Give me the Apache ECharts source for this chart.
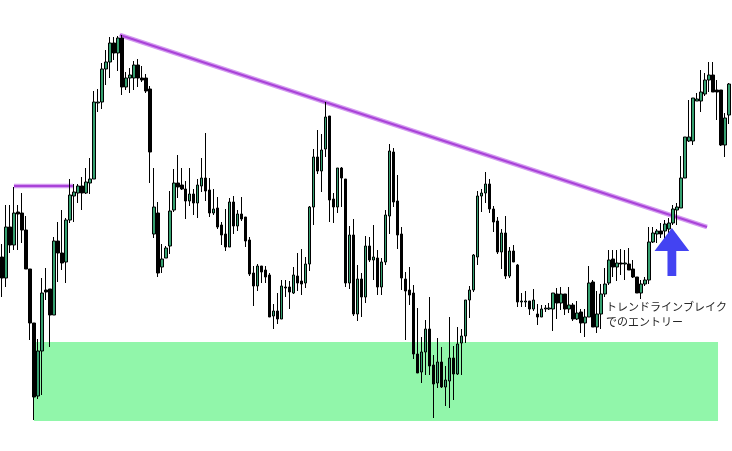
<!DOCTYPE html>
<html><head><meta charset="utf-8">
<script src="https://cdn.jsdelivr.net/npm/echarts@6/dist/echarts.min.js"></script>
<style>html,body{margin:0;padding:0;background:#fff}#c{width:732px;height:451px}</style>
</head><body><div id="c"></div>
<script>
// Price levels (level axis runs downward: smaller = higher price)
const openV = [257,278,227,245,212,213,230,269,323,396,351,290,289,315,241,253,262,220,196,193,186,193,183,179,103,102,69,62,43,53,38,87,78,78,65,78,78,89,234,213,267,258,246,210,183,185,189,201,194,203,186,178,190,213,208,225,234,247,202,226,214,217,240,273,286,266,270,275,316,311,319,287,287,293,276,281,283,264,207,157,171,149,116,199,207,168,179,283,235,314,279,297,246,260,258,287,262,216,152,201,234,279,290,293,354,372,352,329,365,383,362,387,381,358,374,343,336,300,290,257,196,193,184,209,221,252,233,276,251,265,302,302,301,309,314,317,309,309,309,294,303,294,309,305,319,312,323,317,282,327,314,294,283,259,267,263,264,264,269,277,293,284,280,242,234,231,231,229,223,210,208,178,141,141,101,101,94,80,75,90,90,145,115];
const closeV = [278,227,245,213,214,230,269,323,397,351,293,292,315,241,253,263,220,195,192,186,193,182,179,102,102,69,62,43,53,38,87,78,75,65,78,80,91,152,207,273,259,248,211,183,187,189,201,194,203,185,178,191,213,209,227,235,247,202,226,214,219,241,274,286,266,272,277,317,311,319,286,288,292,275,283,284,264,207,157,171,150,117,200,207,168,178,283,235,314,279,297,246,260,257,287,262,215,151,202,235,278,291,295,354,373,352,329,366,384,362,387,380,358,374,344,336,300,290,255,196,193,184,209,222,252,233,276,251,262,302,301,301,309,300,317,309,308,308,293,303,294,309,305,319,313,323,317,283,327,314,294,284,260,267,263,264,263,270,277,293,284,280,242,233,231,234,224,223,209,207,178,137,137,98,99,92,80,75,92,92,145,118,84];
const wickTop = [244,205,205,187,205,193,216,269,323,339,278,268,289,237,222,210,218,179,184,184,177,168,158,91,89,63,50,37,37,36,35,72,68,61,59,66,74,86,168,202,244,246,191,169,155,168,181,168,189,179,158,133,178,189,197,222,209,198,196,210,197,217,237,266,264,266,266,273,304,293,280,280,281,267,253,249,257,206,149,130,134,102,116,193,168,167,179,226,219,265,273,236,237,225,250,258,210,144,148,175,227,272,267,285,308,337,320,297,355,338,347,366,317,346,327,329,300,286,254,191,189,172,179,206,217,229,216,247,245,264,293,291,301,289,304,305,305,303,293,288,287,294,287,303,301,309,309,266,280,291,284,268,250,250,250,249,250,248,260,277,280,277,227,227,229,223,220,218,205,203,156,137,100,98,93,70,73,62,62,80,90,113,83];
const wickBottom = [297,287,253,250,250,243,269,340,420,399,395,300,347,315,282,270,283,223,222,203,210,194,194,179,112,109,85,78,60,71,95,90,93,90,87,82,93,183,238,277,273,258,254,212,198,190,219,206,215,218,192,201,217,215,229,245,251,247,234,231,221,247,276,306,291,283,283,317,329,324,319,297,309,294,291,295,288,271,225,174,192,157,222,223,213,207,287,289,316,321,317,303,262,280,295,295,265,234,207,249,290,340,305,359,373,383,375,375,418,388,388,406,408,400,375,375,343,318,292,265,212,203,213,232,254,269,279,278,262,307,307,307,315,311,325,317,312,310,331,319,310,315,313,321,320,333,337,317,327,333,329,297,285,277,281,275,280,270,278,293,299,286,284,243,243,238,240,233,225,225,208,178,142,145,101,112,96,92,92,120,146,157,124];

// Annotation geometry in chart units (bar index, level)
const supportLine = [[3, 186], [17.75, 186]];
const trendLine = [[29.5, 35], [176.5, 227]];
const supportZone = [[8, 342], [179.25, 421]];
const arrowTipX = 167.7, arrowTipY = 228, arrowHeadY = 251, arrowBaseY = 276, arrowHeadHalf = 4.35, arrowShaftHalf = 1.1;
const noteText = 'トレンドラインブレイク\nでのエントリー';

const categories = openV.map((_, i) => String(i + 1));
const candles = openV.map((o, i) => [o, closeV[i], wickTop[i], wickBottom[i]]);

const chart = echarts.init(document.getElementById('c'), null, {renderer: 'canvas'});
const lineStyleHalo = {color: '#d49cf0', width: 4.5};
const lineStyleCore = {color: '#a943d8', width: 2};
chart.setOption({
  animation: false,
  backgroundColor: '#ffffff',
  grid: {left: -1, top: 0, width: 732, height: 451, containLabel: false},
  xAxis: [
    {type: 'category', data: categories, boundaryGap: true, show: false},
    {type: 'value', min: -0.5, max: 182.5, show: false}
  ],
  yAxis: {type: 'value', min: 0, max: 451, inverse: true, show: false, splitLine: {show: false}},
  series: [
    {
      type: 'line', xAxisIndex: 1, data: [], z: 1, silent: true,
      markArea: {silent: true, itemStyle: {color: '#91f6aa', opacity: 1},
        data: [[{coord: supportZone[0]}, {coord: supportZone[1]}]]}
    },
    {type: 'line', xAxisIndex: 1, data: supportLine, symbol: 'none', z: 2, lineStyle: lineStyleHalo, silent: true},
    {type: 'line', xAxisIndex: 1, data: supportLine, symbol: 'none', z: 2, lineStyle: lineStyleCore, silent: true},
    {type: 'line', xAxisIndex: 1, data: trendLine, symbol: 'none', z: 2, lineStyle: lineStyleHalo, silent: true},
    {type: 'line', xAxisIndex: 1, data: trendLine, symbol: 'none', z: 2, lineStyle: lineStyleCore, silent: true},
    {
      type: 'candlestick', data: candles, barWidth: 3, z: 3,
      itemStyle: {color: '#000000', color0: '#35a070', borderColor: '#000000', borderColor0: '#000000', borderWidth: 1}
    },
    {
      type: 'custom', xAxisIndex: 1, z: 5, silent: true,
      data: [[arrowTipX, arrowTipY]],
      renderItem: function (params, api) {
        const p = (x, y) => api.coord([x, y]);
        const pts = [
          p(arrowTipX, arrowTipY),
          p(arrowTipX + arrowHeadHalf, arrowHeadY),
          p(arrowTipX + arrowShaftHalf, arrowHeadY),
          p(arrowTipX + arrowShaftHalf, arrowBaseY),
          p(arrowTipX - arrowShaftHalf, arrowBaseY),
          p(arrowTipX - arrowShaftHalf, arrowHeadY),
          p(arrowTipX - arrowHeadHalf, arrowHeadY)
        ];
        return {type: 'polygon', shape: {points: pts}, style: {fill: '#4343f2'}};
      }
    }
  ],
  graphic: [{
    type: 'text', left: 606, top: 299, z: 10,
    style: {text: noteText, font: '11px "Noto Sans CJK JP"', lineHeight: 15, fill: '#262626'}
  }]
});
</script></body></html>
